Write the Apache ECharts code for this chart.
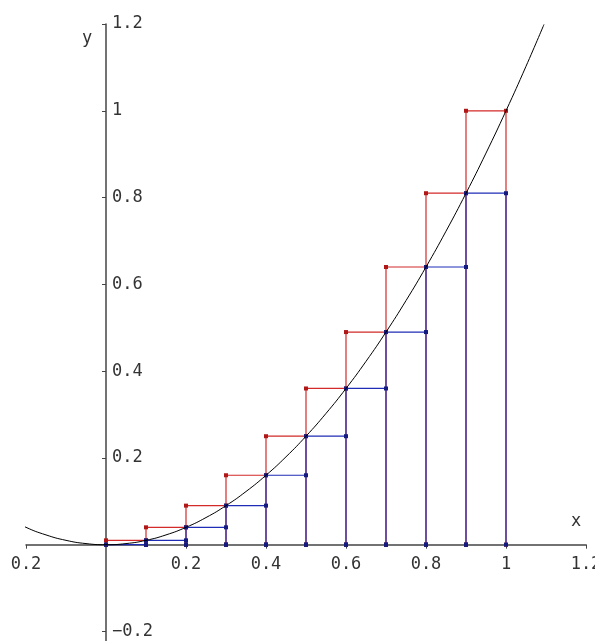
<!DOCTYPE html>
<html lang="en">
<head>
    <meta charset="UTF-8">
    <title>Riemann sums for y = x^2</title>
    <script src="https://cdn.jsdelivr.net/npm/echarts@6/dist/echarts.min.js"></script>
</head>
<body style="margin: 0; background: #fff">
<div id="container" style="width:595px;height:641px;"></div>
<script>
    // partition points on [0, 1]
    var xs = [0, 0.1, 0.2, 0.3, 0.4, 0.5, 0.6, 0.7, 0.8, 0.9, 1.0];
    // upper (right end) rectangle heights, red
    var redHeights = [0.01, 0.04, 0.09, 0.16, 0.25, 0.36, 0.49, 0.64, 0.81, 1.0];
    // lower (left end) rectangle heights, blue
    var blueHeights = [0, 0.01, 0.04, 0.09, 0.16, 0.25, 0.36, 0.49, 0.64, 0.81];

    // the curve
    var curveX = [-0.265, -0.2, -0.15, -0.1, -0.05, 0, 0.05, 0.1, 0.15, 0.2, 0.25, 0.3, 0.35, 0.4,
        0.45, 0.5, 0.55, 0.6, 0.65, 0.7, 0.75, 0.8, 0.85, 0.9, 0.95, 1.0, 1.05, 1.095];
    var curveY = [0.0702, 0.04, 0.0225, 0.01, 0.0025, 0, 0.0025, 0.01, 0.0225, 0.04, 0.0625, 0.09, 0.1225, 0.16,
        0.2025, 0.25, 0.3025, 0.36, 0.4225, 0.49, 0.5625, 0.64, 0.7225, 0.81, 0.9025, 1.0, 1.1025, 1.199];

    var xTicks = [-0.2, 0.2, 0.4, 0.6, 0.8, 1, 1.2];
    var yTicks = [-0.2, 0.2, 0.4, 0.6, 0.8, 1, 1.2];

    function rects(heights) {
        var out = [];
        for (var i = 0; i < heights.length; i++) {
            var a = xs[i], b = xs[i + 1], h = heights[i];
            out.push([a, 0], [a, h], [b, h], [b, 0], null);
        }
        return out;
    }

    var curve = curveX.map(function (x, i) { return [x, curveY[i]]; });

    var labelFont = { fontFamily: 'DejaVu Sans Mono', fontSize: 17, color: '#333' };
    var grid = { left: 26, top: 24, width: 560, height: 617 };

    var myChart = echarts.init(document.getElementById('container'), null, { renderer: 'canvas' });

    var option = {
        animation: false,
        grid: Object.assign({ containLabel: false, outerBoundsMode: 'none' }, grid),
        xAxis: {
            type: 'value',
            min: -0.2,
            max: 1.2,
            position: 'bottom',
            offset: 0,
            splitLine: { show: false },
            axisLine: { onZero: false, lineStyle: { color: '#444', width: 1.5 } },
            axisTick: { show: true, length: 4, customValues: xTicks, lineStyle: { color: '#444' } },
            axisLabel: Object.assign({
                customValues: xTicks,
                margin: 11,
                formatter: function (v) { return v === -0.2 ? '0.2' : String(v); }
            }, labelFont)
        },
        yAxis: {
            type: 'value',
            min: -0.222,
            max: 1.2,
            position: 'left',
            offset: 0,
            splitLine: { show: false },
            axisLine: { onZero: false, lineStyle: { color: '#444', width: 1.5 } },
            axisTick: { show: true, length: 4, customValues: yTicks, lineStyle: { color: '#444' } },
            axisLabel: Object.assign({
                customValues: yTicks,
                inside: true,
                margin: 6,
                formatter: function (v) { return v < 0 ? '\u2212' + Math.abs(v) : String(v); }
            }, labelFont)
        },
        graphic: [
            { type: 'text', left: 571, top: 513, style: { text: 'x', font: '17px DejaVu Sans Mono', fill: '#333' } },
            { type: 'text', left: 82, top: 30, style: { text: 'y', font: '17px DejaVu Sans Mono', fill: '#333' } }
        ],
        series: [
            {
                type: 'line',
                data: rects(redHeights),
                connectNulls: false,
                symbol: 'rect',
                symbolSize: 4,
                lineStyle: { color: '#d42a2a', width: 1.2 },
                itemStyle: { color: '#b01818' },
                z: 3
            },
            {
                type: 'line',
                data: rects(blueHeights),
                connectNulls: false,
                symbol: 'rect',
                symbolSize: 4,
                lineStyle: { color: '#1f2cb5', width: 1.2 },
                itemStyle: { color: '#141a80' },
                z: 4
            },
            {
                type: 'line',
                data: curve,
                smooth: true,
                showSymbol: false,
                clip: false,
                lineStyle: { color: '#000', width: 1 },
                z: 5
            }
        ]
    };

    myChart.setOption(option);

    // move both axes (line, ticks, labels) onto the origin
    var origin = myChart.convertToPixel({ gridIndex: 0 }, [0, 0]);
    myChart.setOption({
        xAxis: { offset: -(grid.top + grid.height - origin[1]) },
        yAxis: { offset: -(origin[0] - grid.left) }
    });
</script>
</body>
</html>
